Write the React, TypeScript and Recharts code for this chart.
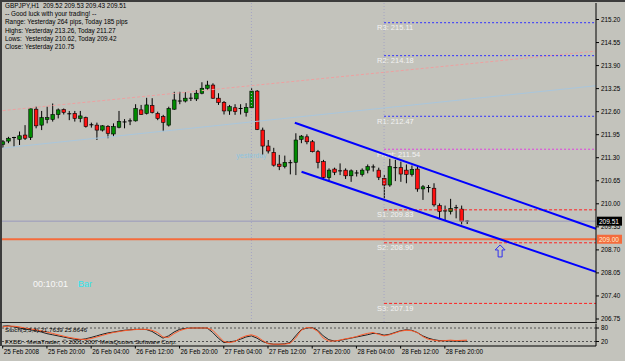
import React from "react";
import {
  ComposedChart,
  Bar,
  Line,
  XAxis,
  YAxis,
  ReferenceLine,
  ReferenceDot,
} from "recharts";

// hourly GBPJPY bars, 25 Feb 12:00 .. 29 Feb 00:00
const open = [
  211.68, 211.77, 211.86, 211.82, 211.94, 211.87, 212.67, 212.22, 212.38, 212.38,
  212.52, 212.66, 212.53, 212.55, 212.41, 212.43, 212.22, 212.22, 212.08, 212.18,
  211.97, 212.16, 212.32, 212.33, 212.34, 212.65, 212.55, 212.77, 212.55, 212.46,
  212.22, 212.67, 212.91, 212.9, 212.97, 212.96, 213.12, 213.26, 213.35, 212.98,
  212.86, 212.62, 212.71, 212.7, 212.58, 212.71, 213.18, 212.08, 211.63, 211.45,
  211.12, 211.05, 211.17, 211.17, 211.82, 211.89, 211.75, 211.47, 211.19, 210.74,
  210.98, 210.94, 210.95, 210.79, 210.88, 210.83, 210.95, 211.05, 210.95, 210.72,
  210.53, 211.03, 211.02, 210.95, 210.83, 210.98, 210.42, 210.45, 210.44, 209.95,
  209.79, 209.78, 209.88, 209.85, 209.52,
];
const high = [
  211.8, 211.89, 211.89, 212.04, 212.22, 212.69, 212.74, 212.62, 212.74, 212.83,
  212.69, 212.69, 212.62, 212.62, 212.62, 212.46, 212.29, 212.29, 212.22, 212.22,
  212.27, 212.62, 212.39, 212.41, 212.81, 212.79, 212.99, 212.98, 212.6, 212.51,
  212.74, 213.16, 213.16, 213.15, 213.12, 213.21, 213.43, 213.47, 213.4, 213.12,
  212.9, 212.79, 212.81, 212.81, 212.84, 213.26, 213.21, 212.15, 211.8, 211.58,
  211.38, 211.36, 211.24, 211.99, 211.94, 211.96, 211.8, 211.52, 211.24, 211.0,
  211.02, 211.14, 211.0, 210.97, 210.95, 211.0, 211.11, 211.11, 211.02, 210.81,
  211.27, 211.24, 211.19, 211.11, 211.08, 211.08, 210.53, 210.53, 210.58, 210.01,
  209.95, 210.14, 209.97, 209.95, 209.53,
];
const low = [
  211.58, 211.71, 211.61, 211.66, 211.8, 211.8, 212.13, 212.08, 212.27, 212.32,
  212.41, 212.52, 212.36, 212.32, 212.3, 212.15, 212.15, 211.8, 212.04, 211.85,
  211.89, 212.13, 212.13, 212.22, 212.32, 212.51, 212.52, 212.55, 212.36, 212.05,
  212.18, 212.65, 212.81, 212.86, 212.9, 212.9, 213.09, 213.21, 212.96, 212.79,
  212.52, 212.51, 212.51, 212.52, 212.46, 212.69, 212.08, 211.38, 211.42, 211.05,
  210.95, 211.0, 210.83, 210.81, 211.71, 211.68, 211.45, 211.0, 210.67, 210.62,
  210.81, 210.81, 210.7, 210.62, 210.77, 210.77, 210.86, 210.91, 210.67, 210.15,
  210.48, 210.64, 210.62, 210.58, 210.77, 210.34, 210.11, 210.32, 209.92, 209.57,
  209.54, 209.7, 209.59, 209.42, 209.43,
];
const close = [
  211.75, 211.85, 211.87, 211.92, 211.85, 212.68, 212.2, 212.43, 212.43, 212.52,
  212.65, 212.58, 212.54, 212.41, 212.48, 212.18, 212.23, 212.08, 212.2, 211.99,
  212.18, 212.32, 212.31, 212.34, 212.69, 212.52, 212.79, 212.58, 212.41, 212.3,
  212.69, 212.93, 212.9, 212.98, 212.98, 213.12, 213.26, 213.35, 212.98, 212.86,
  212.62, 212.74, 212.6, 212.69, 212.72, 213.18, 212.1, 211.63, 211.49, 211.09,
  211.05, 211.17, 211.16, 211.8, 211.91, 211.75, 211.47, 211.17, 210.74, 210.95,
  210.89, 210.93, 210.79, 210.93, 210.87, 210.95, 211.05, 211.04, 210.75, 210.53,
  211.05, 211.02, 210.84, 210.83, 210.97, 210.42, 210.48, 210.46, 209.97, 209.78,
  209.8, 209.87, 209.89, 209.5, 209.51,
];

// Stochastic(5,3,3): main and signal
const stochMain = [
  88, 90, 85, 80, 75, 72, 68, 62, 55, 50, 45, 40, 35, 30, 28, 32, 38, 45, 52, 58,
  62, 66, 70, 72, 74, 74, 73, 65, 50, 35, 45, 62, 74, 78, 80, 80, 80, 80, 60, 35,
  15, 18, 22, 30, 40, 45, 35, 20, 12, 8, 8, 10, 15, 45, 72, 80, 82, 70, 45, 28,
  22, 25, 30, 35, 40, 45, 50, 56, 55, 48, 52, 60, 68, 72, 70, 60, 45, 35, 28, 24,
  23, 22, 22, 21, 21.76,
];
const stochSignal = [
  85, 88, 88, 85, 80, 76, 72, 67, 62, 56, 50, 44, 38, 34, 30, 29, 33, 40, 47, 54,
  60, 64, 68, 71, 73, 74, 74, 70, 60, 40, 38, 55, 68, 76, 80, 80, 80, 80, 70, 45,
  20, 15, 20, 35, 45, 50, 42, 25, 10, 8, 8, 8, 12, 35, 70, 82, 80, 65, 35, 22,
  22, 26, 32, 36, 42, 50, 56, 60, 52, 45, 50, 58, 66, 70, 68, 60, 42, 30, 26, 22,
  24, 26, 24, 25, 25.86,
];

const timeLabels = [
  "25 Feb 2008", "25 Feb 20:00", "26 Feb 04:00", "26 Feb 12:00", "26 Feb 20:00",
  "27 Feb 04:00", "27 Feb 12:00", "27 Feb 20:00", "28 Feb 04:00", "28 Feb 12:00",
  "28 Feb 20:00",
];
const timeTicks = [0, 8, 16, 24, 32, 40, 48, 56, 64, 72, 80];

const priceTicks = [
  206.75, 207.4, 208.05, 208.7, 209.35, 210.0, 210.65, 211.3, 211.95, 212.6,
  213.25, 213.9, 214.55, 215.2,
];

const pivotNames = ["R3", "R2", "R1", "Pivot", "S1", "S2", "S3"];
const pivotValues = [215.11, 214.18, 212.47, 211.54, 209.83, 208.9, 207.19];

const headerLines = [
  "GBPJPY,H1  209.52 209.53 209.43 209.51",
  "-- Good luck with your trading! --",
  "Range: Yesterday 264 pips, Today 185 pips",
  "Highs: Yesterday 213.26, Today 211.27",
  "Lows:  Yesterday 210.62, Today 209.42",
  "Close: Yesterday 210.75",
];

const data = open.map((o, i) => ({
  i,
  o,
  h: high[i],
  l: low[i],
  c: close[i],
  k: stochMain[i],
  d: stochSignal[i],
}));

const X_DOMAIN: [number, number] = [-0.13, 107.35];
const FONT = "'Liberation Sans', Arial, sans-serif";
const BG = "#c3c3bc";

function Candle(props: any) {
  const { x, y, width, height, payload } = props;
  if (!payload || x == null || y == null) return null;
  const cx = x + width / 2;
  const top = Math.min(y, y + height);
  const bot = Math.max(y, y + height);
  const span = payload.h - payload.l;
  const k = span > 0 ? (bot - top) / span : 0;
  const yo = top + (payload.h - payload.o) * k;
  const yc = top + (payload.h - payload.c) * k;
  const bt = Math.min(yo, yc);
  const bb = Math.max(yo, yc);
  const up = payload.c > payload.o;
  return (
    <g>
      <line x1={cx} x2={cx} y1={top} y2={bot} stroke="#000" strokeWidth={1} />
      {bb - bt < 1.2 ? (
        <line x1={cx - 2} x2={cx + 2} y1={yc} y2={yc} stroke="#000" strokeWidth={1} />
      ) : (
        <rect
          x={cx - 1.8}
          y={bt}
          width={3.6}
          height={bb - bt}
          fill={up ? "#008a00" : "#ff1010"}
          stroke="#000"
          strokeWidth={0.6}
        />
      )}
    </g>
  );
}

const pivotLabel = (text: string) => (p: any) => {
  const vb = p.viewBox || {};
  return (
    <text x={(vb.x ?? 0) - 7} y={(vb.y ?? 0) + 7.5} fill="#f2f2f2" fontSize={7.5} fontFamily={FONT}>
      {text}
    </text>
  );
};

const priceBox = (text: string, bg: string, fg: string) => (p: any) => {
  const vb = p.viewBox || {};
  const right = (vb.x ?? 0) + (vb.width ?? 0);
  const cy = vb.y ?? 0;
  return (
    <g>
      <rect x={right + 1} y={cy - 4.5} width={25} height={9} fill={bg} />
      <text x={right + 3} y={cy + 2.5} fill={fg} fontSize={6.5} fontFamily={FONT}>
        {text}
      </text>
    </g>
  );
};

const TimeTick = (props: any) => {
  const { x, y, payload } = props;
  const idx = timeTicks.indexOf(payload.value);
  return (
    <g>
      <line x1={x} x2={x} y1={y} y2={y + 2.5} stroke="#000" />
      <text x={x + 1} y={y + 8.2} fontSize={6.3} fontFamily={FONT} fill="#000">
        {idx >= 0 ? timeLabels[idx] : ""}
      </text>
    </g>
  );
};

const UpArrow = (p: any) => {
  const { cx, cy } = p;
  const pts = [
    [cx, cy - 6],
    [cx + 5, cy - 1],
    [cx + 2, cy - 1],
    [cx + 2, cy + 6],
    [cx - 2, cy + 6],
    [cx - 2, cy - 1],
    [cx - 5, cy - 1],
  ]
    .map((q) => q.join(","))
    .join(" ");
  return <polygon points={pts} fill="none" stroke="#3030f0" strokeWidth={1} />;
};

const YesterdayText = (p: any) => (
  <text x={p.cx} y={p.cy + 2.5} textAnchor="middle" fill="#8fc4df" fontSize={7} fontFamily={FONT}>
    yesterday
  </text>
);

export default function App() {
  return (
    <div
      style={{
        position: "absolute",
        left: 0,
        top: 0,
        width: 625,
        height: 361,
        background: BG,
        overflow: "hidden",
        fontFamily: FONT,
      }}
    >
      {/* price window */}
      <div style={{ position: "absolute", left: 0, top: 0 }}>
        <ComposedChart
          width={625}
          height={361}
          data={data}
          margin={{ top: 3, right: 0, left: 2, bottom: 39 }}
        >
          <XAxis type="number" dataKey="i" domain={X_DOMAIN} hide allowDataOverflow />
          <YAxis
            orientation="right"
            width={29}
            domain={[206.665, 215.666]}
            ticks={priceTicks}
            interval={0}
            allowDataOverflow
            tickFormatter={(v: number) => v.toFixed(2)}
            tick={{ fontSize: 6.3, fill: "#000", fontFamily: FONT }}
            tickSize={3}
            tickMargin={2}
            axisLine={{ stroke: "#000" }}
            tickLine={{ stroke: "#000" }}
          />
          <ReferenceLine x={45} stroke="#a4a4c4" strokeDasharray="1 2" />
          <ReferenceLine x={69} stroke="#a4a4c4" strokeDasharray="1 2" />
          <ReferenceLine
            segment={[{ x: 0, y: 212.63 }, { x: 107.35, y: 214.31 }]}
            stroke="#eea0a0"
            strokeDasharray="3 2"
          />
          <ReferenceLine
            segment={[{ x: 0, y: 211.574 }, { x: 107.35, y: 213.332 }]}
            stroke="#a9c6dc"
          />
          <ReferenceLine y={209.51} stroke="#9898bc" label={priceBox("209.51", "#000", "#fff")} />
          <ReferenceLine
            y={209.0}
            stroke="#f46b3c"
            strokeWidth={2}
            label={priceBox("209.00", "#f46b3c", "#fff2d0")}
          />
          {pivotNames.map((n, j) => (
            <ReferenceLine
              key={n}
              segment={[{ x: 69, y: pivotValues[j] }, { x: 107.35, y: pivotValues[j] }]}
              stroke={j < 3 ? "#3030ff" : j === 3 ? "#e040e0" : "#ff2020"}
              strokeDasharray={j < 4 ? "2 2" : "3 2"}
              label={pivotLabel(`${n}: ${pivotValues[j].toFixed(2)}`)}
            />
          ))}
          <ReferenceLine
            segment={[{ x: 52.86, y: 212.288 }, { x: 107.35, y: 209.297 }]}
            stroke="#0000ff"
            strokeWidth={2}
          />
          <ReferenceLine
            segment={[{ x: 54.07, y: 210.905 }, { x: 107.35, y: 208.078 }]}
            stroke="#0000ff"
            strokeWidth={2}
          />
          <ReferenceDot x={45} y={211.357} r={0} shape={YesterdayText} />
          <ReferenceDot x={90} y={208.67} r={0} shape={UpArrow} />
          <Bar
            dataKey={(d: any) => [d.l, d.h]}
            barSize={4}
            shape={Candle}
            isAnimationActive={false}
          />
        </ComposedChart>
      </div>

      {/* stochastic window */}
      <div style={{ position: "absolute", left: 0, top: 0 }}>
        <ComposedChart
          width={625}
          height={361}
          data={data}
          margin={{ top: 323.5, right: 0, left: 2, bottom: 0 }}
        >
          <XAxis
            type="number"
            dataKey="i"
            domain={X_DOMAIN}
            allowDataOverflow
            ticks={timeTicks}
            interval={0}
            height={15}
            tick={<TimeTick />}
            tickSize={0}
            tickMargin={0}
            tickLine={false}
            axisLine={{ stroke: "#000" }}
          />
          <YAxis
            orientation="right"
            width={29}
            domain={[0, 100]}
            ticks={[20, 80]}
            interval={0}
            allowDataOverflow
            tick={{ fontSize: 6.3, fill: "#000", fontFamily: FONT }}
            tickSize={3}
            tickMargin={2}
            axisLine={{ stroke: "#000" }}
            tickLine={{ stroke: "#000" }}
          />
          <ReferenceLine y={80} stroke="#505050" strokeDasharray="2 2" />
          <ReferenceLine y={20} stroke="#505050" strokeDasharray="2 2" />
          <Line
            dataKey="k"
            stroke="#202020"
            strokeWidth={1}
            dot={false}
            isAnimationActive={false}
          />
          <Line
            dataKey="d"
            stroke="#ff5a2a"
            strokeWidth={1}
            dot={false}
            isAnimationActive={false}
          />
        </ComposedChart>
      </div>

      {/* frame */}
      <div style={{ position: "absolute", left: 0, top: 0, width: 625, height: 1.5, background: "#3c3c3c" }} />
      <div style={{ position: "absolute", left: 0, top: 0, width: 1.5, height: 346, background: "#3c3c3c" }} />
      <div style={{ position: "absolute", left: 0, top: 322, width: 597, height: 1, background: "#202020" }} />

      {/* text overlays */}
      <div
        style={{
          position: "absolute",
          left: 5,
          top: 2,
          fontSize: 6.4,
          lineHeight: "8.2px",
          color: "#000",
          whiteSpace: "pre",
        }}
      >
        {headerLines.map((t) => (
          <div key={t}>{t}</div>
        ))}
      </div>
      <div style={{ position: "absolute", left: 33, top: 279, fontSize: 9, color: "#f8f8f8" }}>00:10:01</div>
      <div style={{ position: "absolute", left: 78, top: 279, fontSize: 9, color: "#2ee6ee" }}>Bar</div>
      <div style={{ position: "absolute", left: 5, top: 326, fontSize: 6.2, color: "#000", whiteSpace: "pre" }}>
        Stoch(5,3,3) 21.7639 25.8646
      </div>
      <div style={{ position: "absolute", left: 5, top: 338, fontSize: 6.2, color: "#000", whiteSpace: "pre" }}>
        FXDD - MetaTrader, © 2001-2007 MetaQuotes Software Corp.
      </div>
    </div>
  );
}
